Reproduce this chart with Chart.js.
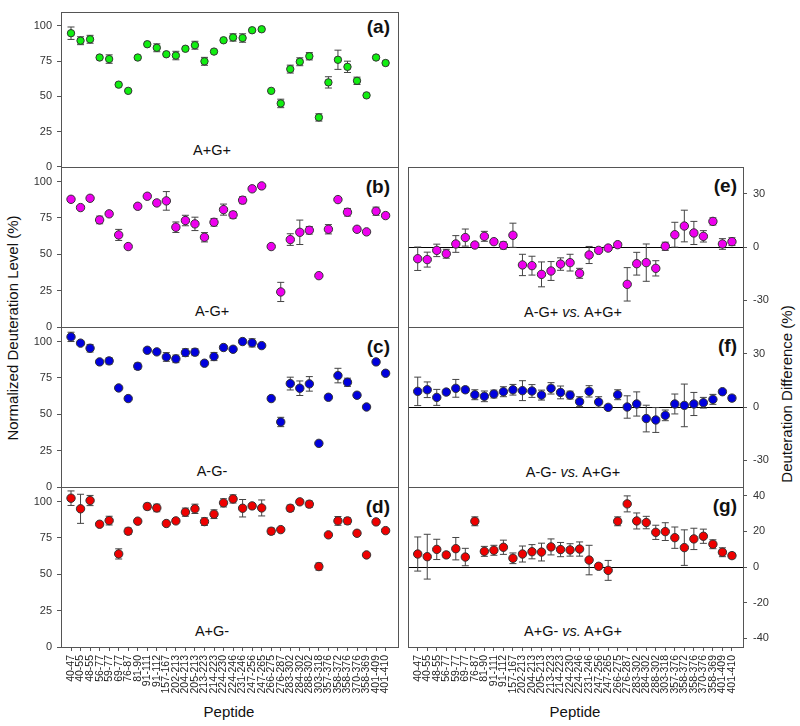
<!DOCTYPE html>
<html><head><meta charset="utf-8">
<script src="https://cdn.jsdelivr.net/npm/chart.js@4"></script>
<style>
body{margin:0;background:#fff;}
#wrap{position:relative;width:800px;height:726px;overflow:hidden;font-family:"Liberation Sans",Arial,sans-serif;background:#fff;}
canvas{position:absolute;left:0;top:0;}
.t{position:absolute;white-space:nowrap;color:#111;line-height:1;}
.nm{font-size:14.5px;transform:translate(-50%,-50%);}
.lt{font-size:19px;font-weight:bold;transform:translateY(-50%);}
.ax{font-size:15px;transform:translate(-50%,-50%) rotate(-90deg);}
.xt{font-size:15px;transform:translate(-50%,-50%);}
</style></head><body>
<div id="wrap">
  <div class="t ax" style="left:12px;top:328px;">Normalized Deuteration Level (%)</div>
  <div class="t ax" style="left:786px;top:394px;">Deuteration Difference (%)</div>
  <div class="t xt" style="left:229px;top:711px;">Peptide</div>
  <div class="t xt" style="left:575px;top:711px;">Peptide</div>
  <div class="t nm" style="left:212px;top:150px;">A+G+</div>
  <div class="t nm" style="left:212px;top:311px;">A-G+</div>
  <div class="t nm" style="left:212px;top:471px;">A-G-</div>
  <div class="t nm" style="left:212px;top:631px;">A+G-</div>
  <div class="t nm" style="left:573px;top:312px;">A-G+ <i>vs.</i> A+G+</div>
  <div class="t nm" style="left:573px;top:472px;">A-G- <i>vs.</i> A+G+</div>
  <div class="t nm" style="left:573px;top:631px;">A+G- <i>vs.</i> A+G+</div>
  <div class="t lt" style="right:410px;top:26px;">(a)</div>
  <div class="t lt" style="right:410px;top:186px;">(b)</div>
  <div class="t lt" style="right:410px;top:346px;">(c)</div>
  <div class="t lt" style="right:410px;top:506px;">(d)</div>
  <div class="t lt" style="right:63px;top:185px;">(e)</div>
  <div class="t lt" style="right:63px;top:345px;">(f)</div>
  <div class="t lt" style="right:63px;top:505px;">(g)</div>
</div>
<script>
const peptides = ['40-47','40-55','48-55','56-77','59-77','69-77','76-87','81-90','91-111','91-112','157-167','202-213','204-213','205-213','213-223','214-223','224-230','224-246','231-246','247-256','247-265','266-275','276-287','283-302','284-302','288-302','303-318','357-376','358-372','358-376','370-376','358-369','401-409','401-410'];

const levelTicks = [0,25,50,75,100];
const diffTicksEF = [30,0,-30];
const diffTicksG = [40,20,0,-20,-40];

// (a) A+G+
const aPGP = [94.7,89.4,90.4,77.5,76.4,58.3,53.9,77.5,86.9,84.4,79.8,78.9,83.7,86.2,74.8,81.7,89.7,91.7,91.3,96.8,97.5,53.9,45.0,69.3,74.5,78.4,35.1,59.9,75.9,70.9,61.0,50.7,77.5,73.6];
const aPGPerr = [4.4,2.8,2.8,0.5,3,0.5,0.5,0.5,0.5,2.8,0.5,3,0.5,2.8,2.8,0.5,0.5,2.6,3,0.5,0.5,0.5,3,2.8,2.8,2.6,2.6,4,6.8,4,2.6,0.5,0.5,0.5];
// (b) A-G+
const aMGP = [87.8,82.1,88.5,73.6,77.8,63.3,55.3,83.0,89.9,85.3,86.7,68.6,73.2,70.9,61.7,72.0,80.7,77.1,87.2,95.0,97.0,55.3,24.1,60.1,65.1,66.5,35.3,67.2,87.6,78.9,67.2,65.4,79.6,76.6];
const aMGPerr = [0.5,0.5,0.5,2.6,0.5,3.8,0.5,0.5,0.5,0.5,6.4,3.6,3.6,4.6,3.2,2.6,3.8,2.4,2.4,0.5,0.5,0.5,6.6,4,8.4,2.6,0.5,3.2,0.5,2.6,0.5,0.5,2.8,0.5];
// (c) A-G-
const aMGM = [103.2,98.9,95.4,86.0,86.7,68.1,60.8,83.0,94.0,92.9,89.4,88.1,92.4,92.7,85.1,89.7,95.9,94.7,100.0,99.1,97.2,60.8,44.7,71.1,67.9,70.9,30.0,61.7,76.6,72.0,63.1,55.0,86.0,78.2];
const aMGMerr = [3.2,0.5,2.6,0.5,2.2,0.5,0.5,2.2,0.5,0.5,3,2.6,2.6,2.4,0.5,2.8,0.5,0.5,0.5,2.8,0.5,0.5,3.2,4.4,5,5,0.5,0.5,5,2.8,0.5,0.5,0.5,0.5];
// (d) A+G-
const aPGM = [102.3,95.0,100.7,84.4,86.9,64.0,79.6,86.5,96.6,95.6,84.9,86.7,92.7,95.0,86.2,91.3,99.1,101.8,95.4,97.0,95.6,79.6,80.7,95.4,99.8,98.2,55.3,77.1,86.7,86.7,78.2,63.3,86.0,80.0];
const aPGMerr = [5,10,3.5,0.5,3,3.5,2.2,0.5,2.2,2.6,0.5,0.5,2.8,3.2,2.6,3,2.8,2.8,6,0.5,5.5,2.2,0.5,2.2,0.5,2.2,2.4,0.5,3,2.2,0.5,0.5,0.5,0.5];
// (e) A-G+ vs A+G+
const dE = [-6.6,-7.1,-1.9,-3.8,1.7,5.3,1.1,6.0,3.0,0.9,6.6,-10.1,-10.5,-15.4,-13.5,-9.6,-8.8,-14.8,-4.5,-1.9,-0.6,1.3,-21.0,-9.4,-8.8,-12.0,0.4,6.9,11.8,7.9,6.0,14.4,1.7,3.0];
const dEerr = [6.6,4.2,3.5,2.5,4.7,4.8,0.8,2.8,1,2,6.8,6,5.3,7,5.3,3.5,4.7,2.8,4.8,0.8,0.8,1,9.4,6.4,10.5,4.3,2.3,7,8.9,6.5,3.2,2,3,2.2];
// (f) A-G- vs A+G+
const dF = [8.8,9.7,5.4,8.4,10.5,9.7,6.9,6.0,7.3,8.6,9.7,9.2,9.0,6.7,10.5,8.2,6.7,3.0,8.8,2.8,-0.2,6.9,0.0,1.7,-6.5,-7.3,-4.7,1.7,0.9,1.7,2.4,4.3,8.6,5.0];
const dFerr = [8,4.4,4.5,1.5,5,1.5,2.8,3,2.2,2.8,3,5.6,3.6,2.8,3.2,3.6,2.2,2.8,3.2,3,1,2.8,6.3,6.8,7.5,7,3,5.6,12,6.5,3,2.8,0.8,1.5];
// (g) A+G- vs A+G+
const dG = [7.3,5.8,9.9,6.8,10.3,5.6,25.7,8.8,9.4,11.1,4.9,7.3,8.6,8.4,11.3,9.8,9.6,10.1,3.9,0.4,-1.9,25.7,35.5,25.9,25.0,19.5,19.9,16.5,10.9,15.8,17.3,12.8,8.3,6.4];
const dGerr = [9.6,12.6,5.7,1.5,6.3,4.9,2.5,2.8,2.8,4,3,4.5,4,5,4.5,4,3.5,4,8.3,1.5,5.6,2.5,4.5,4.5,3.5,4,5,6,10,6,4,2.5,2.5,1.5];

const FONT = '"Liberation Sans", Arial, sans-serif';

const errPlugin = {
  id: 'errFrame',
  beforeDatasetsDraw(chart) {
    const {ctx, chartArea: a, scales: {x, y}} = chart;
    ctx.save();
    ctx.strokeStyle = '#555';
    ctx.lineWidth = 1;
    ctx.strokeRect(Math.round(a.left) + 0.5, Math.round(a.top) + 0.5,
                   Math.round(a.right) - Math.round(a.left), Math.round(a.bottom) - Math.round(a.top));
    ctx.strokeStyle = '#444';
    chart.data.datasets.forEach(ds => {
      ds.data.forEach((p, i) => {
        const e = ds.errors[i];
        const px = x.getPixelForValue(p.x);
        const y1 = y.getPixelForValue(p.y + e), y2 = y.getPixelForValue(p.y - e);
        ctx.beginPath();
        ctx.moveTo(px, y1); ctx.lineTo(px, y2);
        ctx.moveTo(px - 3.5, y1); ctx.lineTo(px + 3.5, y1);
        ctx.moveTo(px - 3.5, y2); ctx.lineTo(px + 3.5, y2);
        ctx.stroke();
      });
    });
    ctx.restore();
  }
};

function panel(cfg) {
  const c = document.createElement('canvas');
  c.width = 800; c.height = 726;
  document.getElementById('wrap').appendChild(c);
  const left = cfg.side === 'L';
  const plotL = left ? 61 : 408, plotR = left ? 398 : 743;
  const yW = 45, xH = 60;
  const pad = {
    left: left ? plotL - yW : plotL,
    right: left ? 800 - plotR : 800 - plotR - yW,
    top: cfg.top,
    bottom: cfg.showX ? 726 - cfg.bottom - xH : 726 - cfg.bottom
  };
  new Chart(c, {
    type: 'scatter',
    data: { datasets: [{
      data: cfg.values.map((v, i) => ({x: i, y: v})),
      errors: cfg.errors,
      backgroundColor: cfg.color,
      borderColor: '#333',
      borderWidth: 1,
      pointRadius: cfg.radius,
      pointHoverRadius: cfg.radius
    }]},
    options: {
      responsive: false, animation: false, devicePixelRatio: 1,
      layout: { padding: pad },
      plugins: { legend: {display: false}, tooltip: {enabled: false} },
      scales: {
        x: {
          type: 'linear', display: cfg.showX,
          min: left ? -1.05 : -1.02, max: left ? 34.3 : 34.16,
          afterBuildTicks: s => { s.ticks = peptides.map((p, i) => ({value: i})); },
          afterFit: s => { s.height = cfg.showX ? xH : 0; },
          ticks: { autoSkip: false, maxRotation: 90, minRotation: 90, padding: 4, color: '#222',
                   font: {size: 10.5, family: FONT}, callback: v => peptides[v] !== undefined ? peptides[v] : '' },
          grid: { drawOnChartArea: false, drawTicks: true, tickLength: 4, tickColor: '#555' },
          border: { display: false }
        },
        y: {
          type: 'linear', position: left ? 'left' : 'right',
          min: cfg.yMin, max: cfg.yMax,
          afterBuildTicks: s => { s.ticks = cfg.yTicks.map(v => ({value: v})); },
          afterFit: s => { s.width = yW; },
          ticks: { padding: left ? 5 : 6, color: '#333', font: {size: 11, family: FONT} },
          grid: { drawOnChartArea: !left, drawTicks: true, tickLength: 4, tickColor: '#555', lineWidth: 1,
                  color: ctx => (ctx.tick && ctx.tick.value === 0) ? '#000' : 'rgba(0,0,0,0)' },
          border: { display: false }
        }
      }
    },
    plugins: [errPlugin]
  });
}

panel({side:'L', top:7,   bottom:167, showX:false, values:aPGP, errors:aPGPerr, color:'#11ee11', radius:3.7, yTicks:levelTicks, yMin:0, yMax:110});
panel({side:'L', top:167, bottom:327, showX:false, values:aMGP, errors:aMGPerr, color:'#ee00ee', radius:4.2, yTicks:levelTicks, yMin:0, yMax:110});
panel({side:'L', top:327, bottom:487, showX:false, values:aMGM, errors:aMGMerr, color:'#0000dd', radius:4.2, yTicks:levelTicks, yMin:0, yMax:110});
panel({side:'L', top:487, bottom:647, showX:true,  values:aPGM, errors:aPGMerr, color:'#ee0000', radius:4.2, yTicks:levelTicks, yMin:0, yMax:110});
panel({side:'R', top:167, bottom:327, showX:false, values:dE, errors:dEerr, color:'#ee00ee', radius:4.2, yTicks:diffTicksEF, yMin:-45, yMax:45});
panel({side:'R', top:327, bottom:487, showX:false, values:dF, errors:dFerr, color:'#0000dd', radius:4.2, yTicks:diffTicksEF, yMin:-45, yMax:45});
panel({side:'R', top:487, bottom:647, showX:true,  values:dG, errors:dGerr, color:'#ee0000', radius:4.2, yTicks:diffTicksG, yMin:-45, yMax:45});
</script>
</body></html>
